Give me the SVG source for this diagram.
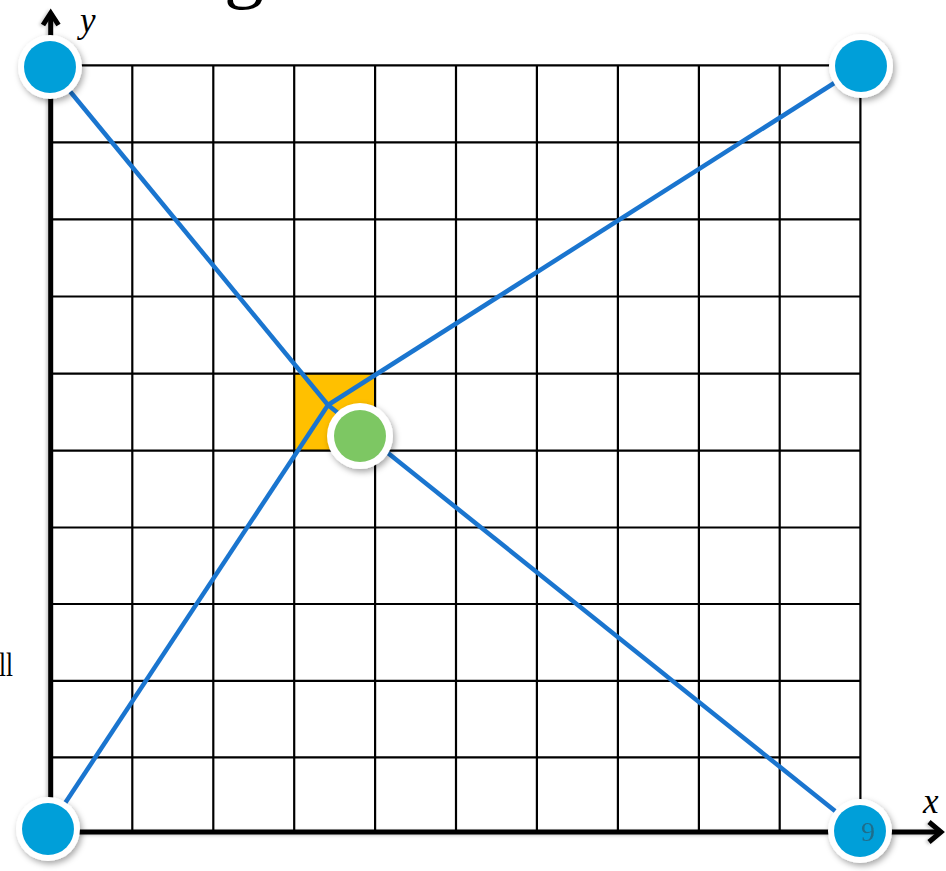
<svg xmlns="http://www.w3.org/2000/svg" width="946" height="871" viewBox="0 0 946 871">
<defs>
<filter id="sh" x="-50%" y="-50%" width="200%" height="200%">
<feDropShadow dx="2" dy="3" stdDeviation="3" flood-color="#000" flood-opacity="0.35"/>
</filter>
<filter id="ash" x="-50%" y="-5%" width="200%" height="110%">
<feDropShadow dx="-2" dy="1" stdDeviation="1.5" flood-color="#000" flood-opacity="0.2"/>
</filter>
<style>
.grid line{stroke:#000;stroke-width:2.2}
.axis{stroke:#000;stroke-width:5;fill:none}
.conn{stroke:#1A75CF;stroke-width:4.5;fill:none}
.ring{fill:#fff}
.blue{fill:#049FD9}
.green{fill:#7DC764}
.lbl{font-family:"Liberation Serif",serif;font-style:italic;font-size:35px;fill:#000}
</style>
</defs>
<rect width="946" height="871" fill="#fff"/>
<text x="224" y="-7" font-family="Liberation Serif, serif" font-size="80" fill="#000">g</text>
<text x="-1" y="676" font-family="Liberation Serif, serif" font-size="34" fill="#000" textLength="14" lengthAdjust="spacingAndGlyphs">ll</text>
<g id="cell"><rect x="294" y="373.3" width="81" height="77" fill="#FFC000"/></g>
<g id="grid" class="grid">
<line x1="51" y1="65.3" x2="860.4" y2="65.3"/>
<line x1="51" y1="142.3" x2="860.4" y2="142.3"/>
<line x1="51" y1="219.3" x2="860.4" y2="219.3"/>
<line x1="51" y1="296.5" x2="860.4" y2="296.5"/>
<line x1="51" y1="373.6" x2="860.4" y2="373.6"/>
<line x1="51" y1="450.7" x2="860.4" y2="450.7"/>
<line x1="51" y1="527.5" x2="860.4" y2="527.5"/>
<line x1="51" y1="604" x2="860.4" y2="604"/>
<line x1="51" y1="680.8" x2="860.4" y2="680.8"/>
<line x1="51" y1="757.3" x2="860.4" y2="757.3"/>
<line x1="132.3" y1="65.3" x2="132.3" y2="832"/>
<line x1="213.3" y1="65.3" x2="213.3" y2="832"/>
<line x1="294.2" y1="65.3" x2="294.2" y2="832"/>
<line x1="375.1" y1="65.3" x2="375.1" y2="832"/>
<line x1="456" y1="65.3" x2="456" y2="832"/>
<line x1="536.9" y1="65.3" x2="536.9" y2="832"/>
<line x1="617.9" y1="65.3" x2="617.9" y2="832"/>
<line x1="698.9" y1="65.3" x2="698.9" y2="832"/>
<line x1="779.7" y1="65.3" x2="779.7" y2="832"/>
<line x1="860.4" y1="65.3" x2="860.4" y2="832"/>
</g>
<g id="axes" filter="url(#ash)">
<path class="axis" d="M50.7 834 V13"/>
<path class="axis" d="M43 25 L50.7 13 L58.5 25"/>
<path class="axis" d="M48.5 832 H941"/>
<path class="axis" d="M929 822 L941 832 L929 842"/>
</g>
<g id="connectors">
<line class="conn" x1="50" y1="67" x2="328" y2="405"/>
<line class="conn" x1="861" y1="66" x2="328" y2="405"/>
<line class="conn" x1="48" y1="829" x2="328" y2="405"/>
<line class="conn" x1="860" y1="831" x2="328" y2="405"/>
</g>
<g id="node-tl" filter="url(#sh)"><circle class="ring" cx="50" cy="67" r="32"/><circle class="blue" cx="50" cy="67" r="26"/></g>
<g id="node-tr" filter="url(#sh)"><circle class="ring" cx="861" cy="66" r="32"/><circle class="blue" cx="861" cy="66" r="26"/></g>
<g id="node-bl" filter="url(#sh)"><circle class="ring" cx="48" cy="829" r="32"/><circle class="blue" cx="48" cy="829" r="26"/></g>
<g id="node-br" filter="url(#sh)"><circle class="ring" cx="860" cy="831" r="32"/><circle class="blue" cx="860" cy="831" r="26"/>
<text x="861" y="841" font-family="Liberation Serif, serif" font-size="28" fill="#1F6E8C">9</text></g>
<g id="node-center" filter="url(#sh)"><circle class="ring" cx="360" cy="436" r="33"/><circle class="green" cx="360" cy="436" r="26"/></g>
<text class="lbl" x="80" y="32">y</text>
<text class="lbl" x="923" y="813">x</text>
</svg>
